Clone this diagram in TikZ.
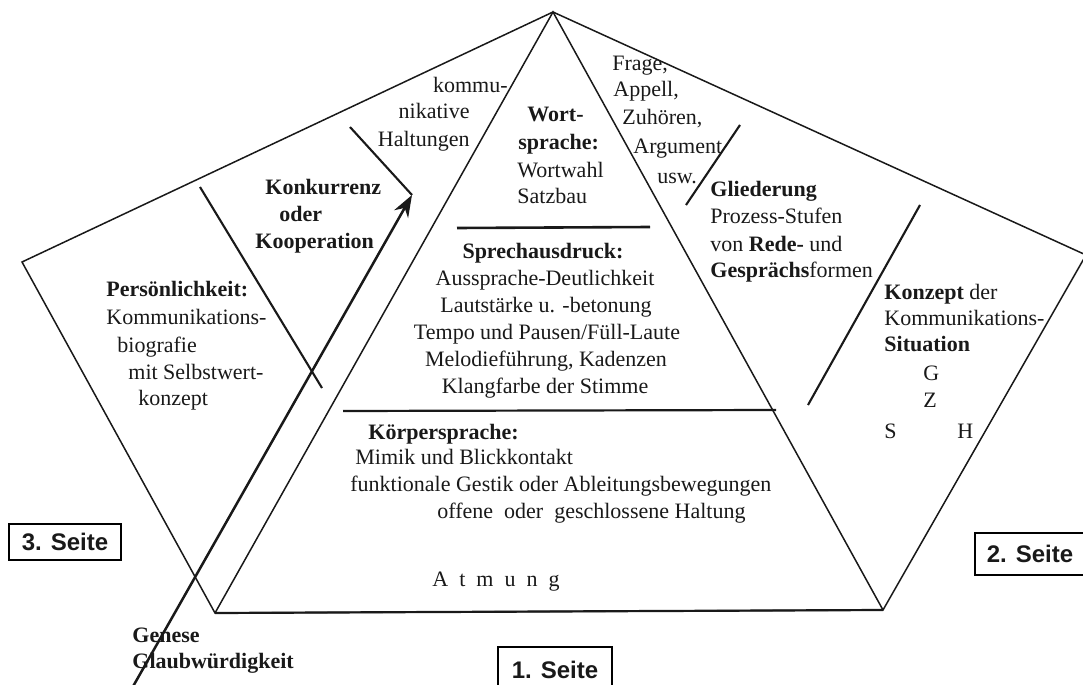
\documentclass[tikz,border=0pt]{standalone}
\usepackage{fontspec}
\setmainfont{Liberation Serif}
\setsansfont{Liberation Sans}
\usetikzlibrary{arrows.meta}
\begin{document}
\begin{tikzpicture}[x=0.5pt,y=-0.5pt,
  outline/.style={line width=0.75pt,black!90,line join=miter},
  divider/.style={line width=1.05pt,black!90},
  hline/.style={line width=1.1pt,black!90},
  arrowline/.style={line width=1.25pt,black!90},
  txt/.style={inner sep=0pt,text=black!90,font=\fontsize{11}{13}\selectfont},
  lt/.style={txt,anchor=base west},
  rt/.style={txt,anchor=base east},
  ct/.style={txt,anchor=base},
  seite/.style={draw,line width=0.85pt,inner sep=0pt,text=black!90,font=\sffamily\bfseries\fontsize{12}{14}\selectfont}
]
\useasboundingbox (0,0) rectangle (1083,685);

% pentagon and triangle
\coordinate (A) at (553,12);
\coordinate (R) at (1086,255);
\coordinate (BR) at (883,610);
\coordinate (BL) at (215,613);
\coordinate (L) at (22,262);
\draw[outline] (A) -- (R) -- (BR) -- (BL) -- (L) -- cycle;
\draw[outline] (BL) -- (A) -- (BR);
\draw[hline] (BL) -- (BR);

% horizontal dividers in triangle
\coordinate (h1a) at (457,228);
\coordinate (h1b) at (650,227);
\draw[hline,line width=1.3pt] (h1a) -- (h1b);
\coordinate (h2a) at (343,411);
\coordinate (h2b) at (776,410);
\draw[hline] (h2a) -- (h2b);

% wing dividers
\coordinate (d1a) at (200,187);
\coordinate (d1b) at (322,388);
\draw[divider] (d1a) -- (d1b);
\coordinate (d2a) at (740,125);
\coordinate (d2b) at (686,205);
\draw[divider] (d2a) -- (d2b);
\coordinate (d3a) at (920,205);
\coordinate (d3b) at (808,405);
\draw[divider] (d3a) -- (d3b);

% arrow
\coordinate (arS) at (131,690);
\coordinate (arT) at (412,195);
\coordinate (arU) at (350,127);
\draw[divider] (arU) -- (arT);
\draw[arrowline,-{Stealth[length=11pt,width=8pt]}] (arS) -- (arT);

% left wing texts
\node[rt] (k1) at (508,92) {kommu-};
\node[rt] (k2) at (470,119) {nikative};
\node[rt] (k3) at (470,146) {Haltungen};
\node[lt] (ko1) at (265,194) {\bfseries Konkurrenz};
\node[lt] (ko2) at (279,221) {\bfseries oder};
\node[lt] (ko3) at (255,248) {\bfseries Kooperation};
\node[lt] (p1) at (106,296) {\bfseries Persönlichkeit:};
\node[lt] (p2) at (106,324) {Kommunikations-};
\node[lt] (p3) at (117,352) {biografie};
\node[lt] (p4) at (128,379) {mit Selbstwert-};
\node[lt] (p5) at (138,405) {konzept};

% top of triangle
\node[lt] (w1) at (527,121) {\bfseries Wort-};
\node[lt] (w2) at (518,149) {\bfseries sprache:};
\node[lt] (w3) at (517,177) {Wortwahl};
\node[lt] (w4) at (517,203) {Satzbau};

% middle
\node[ct] (s1) at (543,258) {\bfseries Sprechausdruck:};
\node[ct] (s2) at (545,285) {Aussprache-Deutlichkeit};
\node[ct] (s3) at (546,312) {Lautstärke u. -betonung};
\node[ct] (s4) at (547,339) {Tempo und Pausen/Füll-Laute};
\node[ct] (s5) at (546,366) {Melodieführung, Kadenzen};
\node[ct] (s6) at (545,393) {Klangfarbe der Stimme};

% bottom
\node[lt] (b1) at (368,439) {\bfseries Körpersprache:};
\node[lt] (b2) at (355,464) {Mimik und Blickkontakt};
\node[lt] (b3) at (350,491) {funktionale Gestik oder Ableitungsbewegungen};
\node[lt] (b4) at (437,518) {offene\ \ oder\ \ geschlossene Haltung};
\node[lt] (b5) at (432,586) {A\hspace{5.5pt}t\hspace{5.5pt}m\hspace{5.5pt}u\hspace{5.5pt}n\hspace{5.5pt}g};

% right wing texts
\node[lt] (f1) at (612,70) {Frage,};
\node[lt] (f2) at (613,97) {Appell,};
\node[lt] (f3) at (622,124) {Zuhören,};
\node[lt] (f4) at (633,153) {Argument};
\node[lt] (f5) at (657,183) {usw.};
\node[lt] (g1) at (710,196) {\bfseries Gliederung};
\node[lt] (g2) at (710,223) {Prozess-Stufen};
\node[lt] (g3) at (710,251) {von \textbf{Rede-} und};
\node[lt] (g4) at (710,277) {\textbf{Gesprächs}formen};
\node[lt] (c1) at (884,299) {\textbf{Konzept} der};
\node[lt] (c2) at (884,325) {Kommunikations-};
\node[lt] (c3) at (884,351) {\bfseries Situation};
\node[lt] (cG) at (923,380) {G};
\node[lt] (cZ) at (923,407) {Z};
\node[lt] (cS) at (884,438) {S};
\node[lt] (cH) at (957,438) {H};

% lower left
\node[lt] (gen1) at (132,642) {\bfseries Genese};
\node[lt] (gen2) at (132,668) {\bfseries Glaubwürdigkeit};

% side labels
\node[seite,minimum width=56pt,minimum height=18pt] (side3) at (65,542) {3. Seite};
\node[seite,minimum width=55pt,minimum height=21pt] (side2) at (1030,554) {2. Seite};
\node[seite,minimum width=57pt,minimum height=23pt] (side1) at (555,670) {1. Seite};
\end{tikzpicture}
\end{document}
